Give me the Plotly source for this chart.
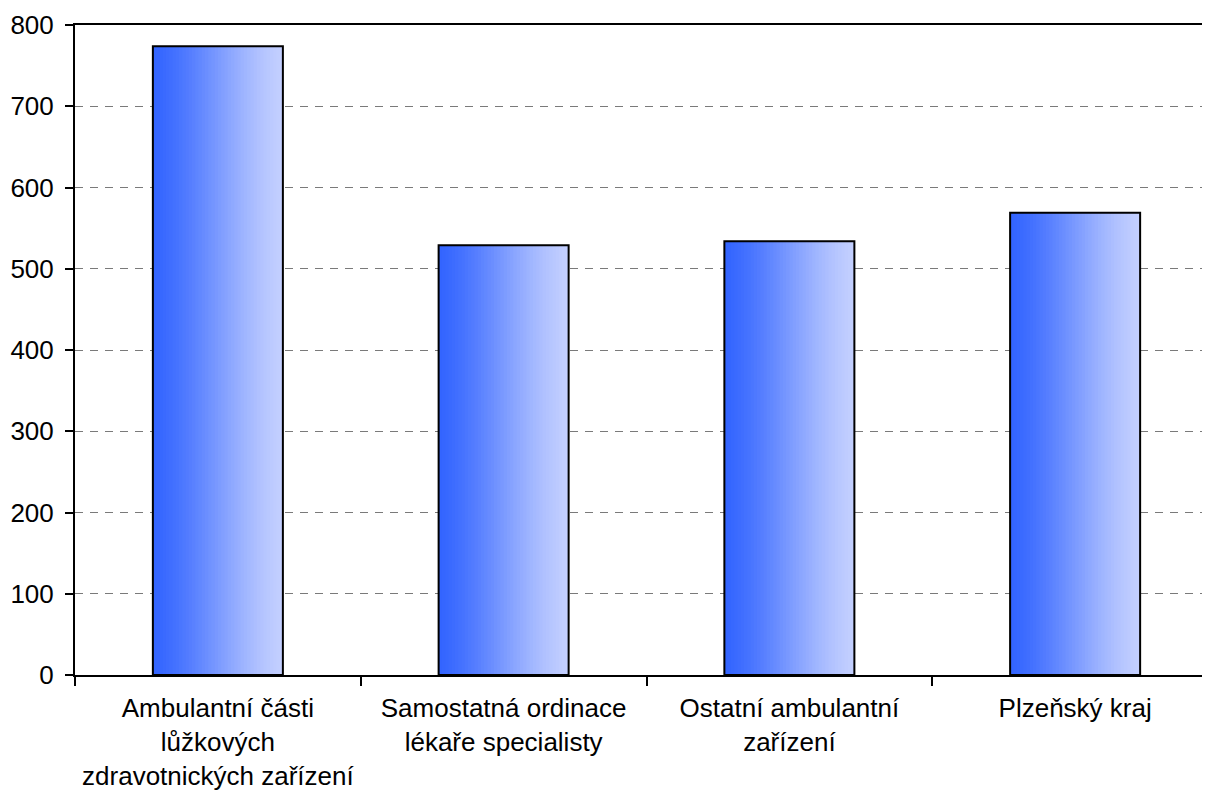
import plotly.graph_objects as go

categories = [
    "Ambulantní části<br>lůžkových<br>zdravotnických zařízení",
    "Samostatná ordinace<br>lékaře specialisty",
    "Ostatní ambulantní<br>zařízení",
    "Plzeňský kraj",
]
values = [774, 529, 534, 569]
y_ticks = [0, 100, 200, 300, 400, 500, 600, 700, 800]

BAR_W = 0.455
N = 40
c0 = (50, 100, 255)
c1 = (196, 208, 255)

def mix(t):
    # smooth horizontal gradient
    s = t * t * (3 - 2 * t)
    s = 0.5 * s + 0.5 * t
    return "rgb(%d,%d,%d)" % tuple(round(a + (b - a) * s) for a, b in zip(c0, c1))

fig = go.Figure()
step = BAR_W / N
for i in range(N):
    fig.add_trace(go.Bar(
        x=categories, y=values,
        width=step * 1.6 if i < N - 1 else step,
        offset=-BAR_W / 2 + i * step,
        marker=dict(color=mix((i + 0.5) / N), line=dict(width=0)),
        hoverinfo="skip", showlegend=False,
    ))
fig.add_trace(go.Bar(
    x=categories, y=values, width=BAR_W, offset=-BAR_W / 2,
    marker=dict(color="rgba(0,0,0,0)", line=dict(color="black", width=2)),
    showlegend=False,
))

fig.update_layout(
    width=1210, height=791,
    margin=dict(l=67, r=0, t=17, b=124),
    paper_bgcolor="white", plot_bgcolor="white",
    barmode="overlay",
    font=dict(family="Liberation Sans, Arial, sans-serif", size=26, color="black"),
)
fig.update_xaxes(
    type="category", range=[-0.5, 3.5], tickson="boundaries",
    ticks="outside", ticklen=9, tickwidth=2, tickcolor="black",
    showline=True, linewidth=2, linecolor="black", mirror=True,
    showgrid=False, zeroline=False, tickfont=dict(size=26),
    ticklabelstandoff=9,
)
fig.update_yaxes(
    range=[0, 800], tickvals=y_ticks,
    ticks="outside", ticklen=8, tickwidth=2, tickcolor="black",
    showline=True, linewidth=2, linecolor="black",
    showgrid=True, gridcolor="#7a7a7a", gridwidth=1.3, griddash="8px,7px",
    zeroline=False, tickfont=dict(size=26), ticklabelstandoff=6,
)

fig.write_html("out.html")
